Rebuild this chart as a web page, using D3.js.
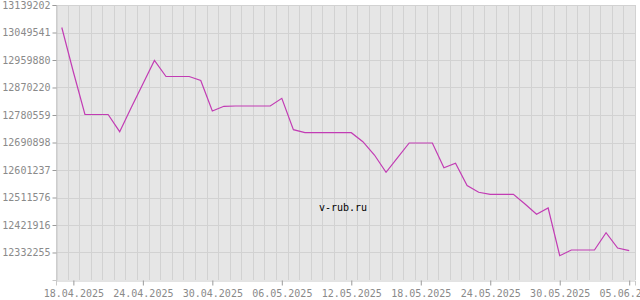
<!DOCTYPE html>
<html>
<head>
<meta charset="utf-8">
<script src="https://cdn.jsdelivr.net/npm/d3@7"></script>
<style>
  body { margin: 0; background: #fff; }
  svg { display: block; }
</style>
</head>
<body>
<div id="chart"></div>
<script>
// daily rates, 17.04.2025 .. 05.06.2025
var startDay = "2025-04-17";
var values = [
    13065843, 12920755, 12782188, 12782188, 12782188, 12726109, 12804685, 12881304,
    12958250, 12906083, 12906083, 12906083, 12893042, 12793600, 12808923, 12809902,
    12809902, 12809902, 12809902, 12835007, 12732630, 12722849, 12722849, 12722849,
    12722849, 12722849, 12693505, 12650142, 12593737, 12641339, 12689267, 12689267,
    12689267, 12608409, 12623081, 12550700, 12528529, 12522008, 12522008, 12522008,
    12490382, 12456800, 12477341, 12321820, 12340404, 12340404, 12340404, 12396809,
    12346925, 12338122
];
var yTicks = [13139202, 13049541, 12959880, 12870220, 12780559, 12690898,
              12601237, 12511576, 12421916, 12332255];
var yMin = 12242594;
var xTickLabels = ["18.04.2025", "24.04.2025", "30.04.2025", "06.05.2025", "12.05.2025",
                   "18.05.2025", "24.05.2025", "30.05.2025", "05.06.2025"];

var width = 640, height = 300;
var plotLeft = 56, plotRight = 635, plotTop = 5, plotBottom = 280;

var parseDay = d3.utcParse("%Y-%m-%d");
var parseLabel = d3.utcParse("%d.%m.%Y");
var fmt = d3.utcFormat("%d.%m.%Y");
var first = parseDay(startDay);
var dates = values.map(function(v, i) { return d3.utcDay.offset(first, i); });
var data = values.map(function(v, i) { return { date: dates[i], value: v }; });

var x = d3.scaleUtc()
    .domain([d3.utcHour.offset(dates[0], -12), d3.utcHour.offset(dates[dates.length - 1], 12)])
    .range([plotLeft, plotRight]);
var y = d3.scaleLinear()
    .domain([yMin, yTicks[0]])
    .range([plotBottom, plotTop]);

var svg = d3.select("#chart")
    .append("svg")
    .attr("width", width)
    .attr("height", height);

// plot background
svg.append("rect")
    .attr("x", plotLeft)
    .attr("y", plotTop)
    .attr("width", plotRight - plotLeft)
    .attr("height", plotBottom - plotTop)
    .attr("fill", "#e6e6e6");

// vertical grid, on day boundaries
var bounds = dates.map(function(d) { return d3.utcHour.offset(d, -12); });
bounds.push(d3.utcHour.offset(dates[dates.length - 1], 12));
svg.append("g")
    .selectAll("line")
    .data(bounds)
    .enter()
    .append("line")
    .attr("x1", function(d) { return Math.round(x(d)) + 0.5; })
    .attr("x2", function(d) { return Math.round(x(d)) + 0.5; })
    .attr("y1", plotTop)
    .attr("y2", plotBottom)
    .attr("stroke", "#d2d2d2")
    .attr("stroke-width", 1);

// horizontal grid
svg.append("g")
    .selectAll("line")
    .data(yTicks)
    .enter()
    .append("line")
    .attr("x1", plotLeft)
    .attr("x2", plotRight)
    .attr("y1", function(d) { return Math.round(y(d)) + 0.5; })
    .attr("y2", function(d) { return Math.round(y(d)) + 0.5; })
    .attr("stroke", "#d2d2d2")
    .attr("stroke-width", 1);

// y axis
var yAxis = d3.axisLeft(y)
    .tickValues(yTicks)
    .tickSize(4)
    .tickPadding(2)
    .tickFormat(d3.format("d"));
var gy = svg.append("g")
    .attr("transform", "translate(" + (plotLeft + 0.5) + ",0)")
    .call(yAxis);

// x axis
var xAxis = d3.axisBottom(x)
    .tickValues(xTickLabels.map(function(s) { return parseLabel(s); }))
    .tickSize(5)
    .tickPadding(4)
    .tickFormat(fmt);
var gx = svg.append("g")
    .attr("transform", "translate(0," + (plotBottom + 0.5) + ")")
    .call(xAxis);

[gx, gy].forEach(function(g) {
    g.select(".domain").attr("stroke", "#c8c8c8");
    g.selectAll(".tick line").attr("stroke", "#9a9a9a");
    g.selectAll("text")
        .attr("font-family", "'DejaVu Sans Mono', monospace")
        .attr("font-size", "10px")
        .attr("fill", "#8a8a8a");
});

// rate line
var line = d3.line()
    .x(function(d) { return x(d.date); })
    .y(function(d) { return y(d.value); });
svg.append("path")
    .datum(data)
    .attr("d", line)
    .attr("fill", "none")
    .attr("stroke", "#c23cb4")
    .attr("stroke-width", 1.2);

// watermark
svg.append("text")
    .text("v-rub.ru")
    .attr("x", 343)
    .attr("y", 211)
    .attr("text-anchor", "middle")
    .attr("font-family", "'DejaVu Sans Mono', monospace")
    .attr("font-size", "10px")
    .attr("fill", "#000");
</script>
</body>
</html>
